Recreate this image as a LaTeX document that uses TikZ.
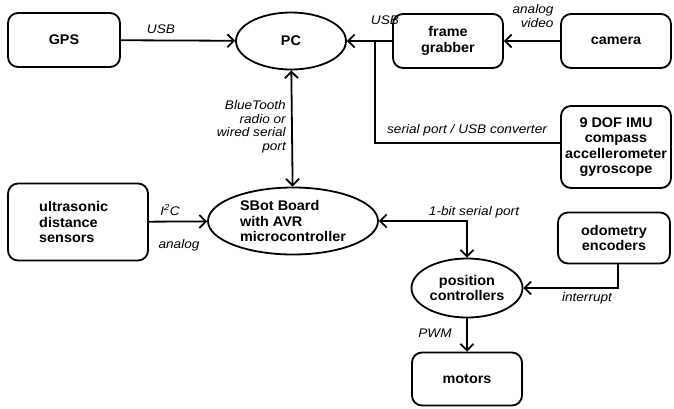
\documentclass[tikz,border=0pt]{standalone}
\usepackage{fontspec}
\setmainfont{Liberation Sans}[FakeStretch=1.09]
\newfontfamily\boxfont{Liberation Sans}[FakeStretch=1.03]
\usetikzlibrary{arrows.meta,shapes.geometric}
\begin{document}
\begin{tikzpicture}[x=1pt,y=-1pt,
  >={Straight Barb[length=6.5pt,width=13pt,line width=1.8pt]},
  every node/.style={inner sep=0pt},
  boxtext/.style={font=\boxfont\fontsize{14}{15.5}\selectfont\bfseries},
  box/.style={draw,line width=1.8pt,rounded corners=10pt,boxtext,align=center},
  oval/.style={draw,line width=1.8pt,ellipse,boxtext,align=center},
  link/.style={line width=1.8pt,->},
  both/.style={line width=1.8pt,<->},
  plain/.style={line width=1.8pt},
  lbl/.style={font=\fontsize{12.5}{13.5}\selectfont\itshape}]
\useasboundingbox (0,0) rectangle (674,408);
\fill[white] (0,0) rectangle (674,408);

% units
\node[box,minimum width=112pt,minimum height=54pt] (gps) at (64,40) {GPS};
\node[oval,minimum width=110pt,minimum height=57pt] (pc) at (291,41) {PC};
\node[box,minimum width=110pt,minimum height=54pt] (fg) at (448,41) {frame\\grabber};
\node[box,minimum width=110pt,minimum height=54pt] (cam) at (616,41) {camera};
\node[box,minimum width=110pt,minimum height=82pt] (imu) at (616,147) {9 DOF IMU\\compass\\accellerometer\\gyroscope};
\node[box,minimum width=140pt,minimum height=77pt] (us) at (78,222) {};
\node[boxtext,align=left,anchor=west] (ust) at (39,222) {ultrasonic\\distance\\sensors};
\node[oval,minimum width=170pt,minimum height=67pt,align=left] (sbot) at (293,221) {SBot Board\\with AVR\\microcontroller};
\node[box,minimum width=112pt,minimum height=51pt] (odo) at (614,238) {odometry\\encoders};
\node[oval,minimum width=111pt,minimum height=59pt] (pos) at (467,288) {position\\controllers};
\node[box,minimum width=110pt,minimum height=53pt] (mot) at (467,379) {motors};

% junctions
\coordinate (j1) at (375,41);
\coordinate (j2) at (375,143);
\coordinate (j3) at (467,221);
\coordinate (j4) at (618,288);

% connectors
\draw[link] (gps) -- (pc);
\draw[link] (fg) -- (pc);
\draw[link] (cam) -- (fg);
\draw[plain] (j1) -- (j2) -- (j2 -| imu.west);
\draw[both] (pc) -- (sbot);
\draw[link] (us) -- (sbot);
\draw[both] (sbot.east) -- (j3) -- (pos.north);
\draw[link] (odo.south -| j4) -- (j4) -- (pos.east);
\draw[link] (pos) -- (mot);

% labels
\node[lbl] (l1) at (161,29) {USB};
\node[lbl] (l2) at (385,20) {USB};
\node[lbl,align=right] (l3) at (533,16) {analog\\video};
\node[lbl] (l4) at (467,130) {serial port / USB converter};
\node[lbl,align=right,anchor=east] (l5) at (286,127) {BlueTooth\\radio or\\wired serial\\port};
\node[lbl] (l6) at (170,210) {I\textsuperscript{2}C};
\node[lbl] (l7) at (179,245) {analog};
\node[lbl] (l8) at (474,212) {1-bit serial port};
\node[lbl] (l9) at (587,298) {interrupt};
\node[lbl] (l10) at (435,333) {PWM};
\end{tikzpicture}
\end{document}
